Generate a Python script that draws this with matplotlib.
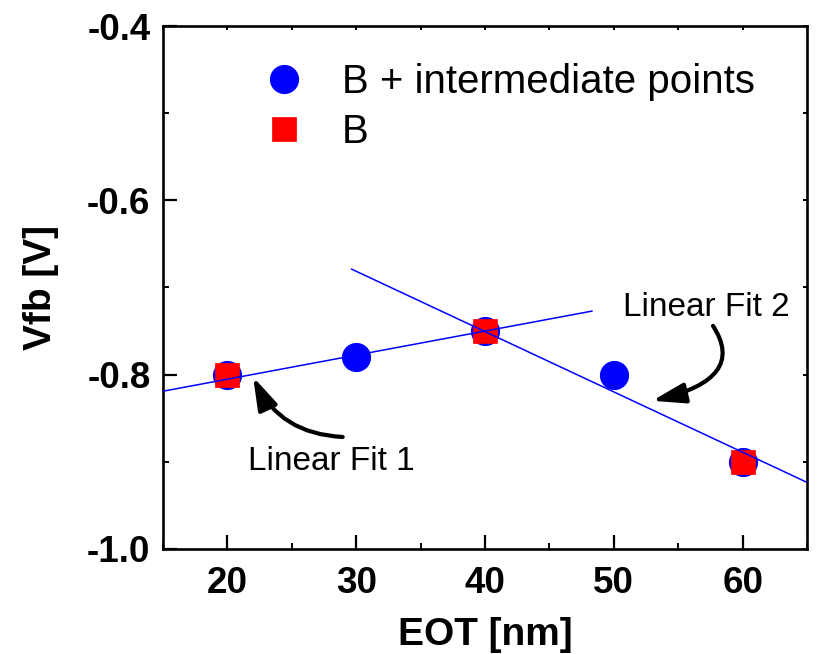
import numpy as np
import matplotlib
matplotlib.use("Agg")
import matplotlib.pyplot as plt
from matplotlib.ticker import MultipleLocator

plt.rcParams['font.family'] = ['Liberation Sans', 'DejaVu Sans']

# Measured flat-band voltage vs. oxide thickness
eot_all = [20, 30, 40, 50, 60]
vfb_all = [-0.80, -0.78, -0.75, -0.80, -0.90]
eot_b = [20, 40, 60]
vfb_b = [-0.80, -0.75, -0.90]

# Linear fits: slope, intercept and x-range for each
fit1_slope, fit1_intercept = 0.00276, -0.8604
fit1_range = [15, 48.3]
fit2_slope, fit2_intercept = -0.00692, -0.4738
fit2_range = [29.65, 65]

x_ticks = [20, 30, 40, 50, 60]
y_ticks = [-1.0, -0.8, -0.6, -0.4]

fig = plt.figure(figsize=(8.17, 6.54), dpi=100)
ax = fig.add_axes([0.1995, 0.1606, 0.7883, 0.7996])

ax.plot(eot_all, vfb_all, linestyle='none', marker='o', ms=20,
        color='#0000ff', mec='#0000ff', label='B + intermediate points', zorder=3)
ax.plot(eot_b, vfb_b, linestyle='none', marker='s', ms=17.3,
        color='#ff0000', mec='#ff0000', mew=0.5, label='B', zorder=4)

for slope, icpt, xr in [(fit1_slope, fit1_intercept, fit1_range),
                        (fit2_slope, fit2_intercept, fit2_range)]:
    xs = np.array(xr)
    ax.plot(xs, slope * xs + icpt, color='#0000ff', lw=1.1, zorder=5)

ax.set_xlim(15, 65)
ax.set_ylim(-1.0, -0.4)
ax.set_xticks(x_ticks)
ax.set_yticks(y_ticks)
ax.xaxis.set_minor_locator(MultipleLocator(5))
ax.yaxis.set_minor_locator(MultipleLocator(0.1))
ax.set_yticklabels([f"{v:.1f}" for v in y_ticks])

for s in ax.spines.values():
    s.set_linewidth(1.9)
ax.tick_params(which='major', direction='in', length=10, width=1.6,
               labelsize=26.5, pad=9)
ax.tick_params(axis='x', which='major', pad=12)
ax.tick_params(which='minor', direction='in', length=4, width=1.4)
for lab in ax.get_xticklabels() + ax.get_yticklabels():
    lab.set_fontweight('bold')

# small ticks on the top and right frame
top = ax.secondary_xaxis('top')
top.set_xticks(x_ticks)
top.xaxis.set_minor_locator(MultipleLocator(5))
top.tick_params(which='both', direction='in', length=3, width=1.4, labeltop=False)
top.spines['top'].set_visible(False)
right = ax.secondary_yaxis('right')
right.set_yticks(y_ticks)
right.yaxis.set_minor_locator(MultipleLocator(0.1))
right.tick_params(which='both', direction='in', length=3, width=1.4, labelright=False)
right.spines['right'].set_visible(False)

ax.set_xlabel('EOT [nm]', fontsize=28, fontweight='bold', labelpad=12)
ax.set_ylabel('Vfb [V]', fontsize=28, fontweight='bold', labelpad=20)

leg = ax.legend(loc='upper left', bbox_to_anchor=(0.159, 0.93), frameon=False,
                fontsize=29, numpoints=1, handlelength=0.9, handletextpad=1.0,
                labelspacing=0.3, borderpad=0, borderaxespad=0)

# annotations with curved arrows
ax.text(28.1, -0.9002, 'Linear Fit 1', fontsize=24, ha='center', va='center')
ax.text(57.2, -0.7235, 'Linear Fit 2', fontsize=24, ha='center', va='center')
ax.annotate('', xy=(22.0, -0.8027), xytext=(28.95, -0.8715),
            arrowprops=dict(arrowstyle='-|>,head_length=0.9,head_width=0.28',
                            connectionstyle='arc3,rad=-0.3', color='black',
                            lw=3, mutation_scale=22, shrinkA=0, shrinkB=0))
ax.annotate('', xy=(52.98, -0.830), xytext=(57.7, -0.744),
            arrowprops=dict(arrowstyle='-|>,head_length=0.9,head_width=0.28',
                            connectionstyle='angle3,angleA=-57,angleB=13', color='black',
                            lw=3, mutation_scale=22, shrinkA=0, shrinkB=0))

fig.savefig('out.png', dpi=100)
